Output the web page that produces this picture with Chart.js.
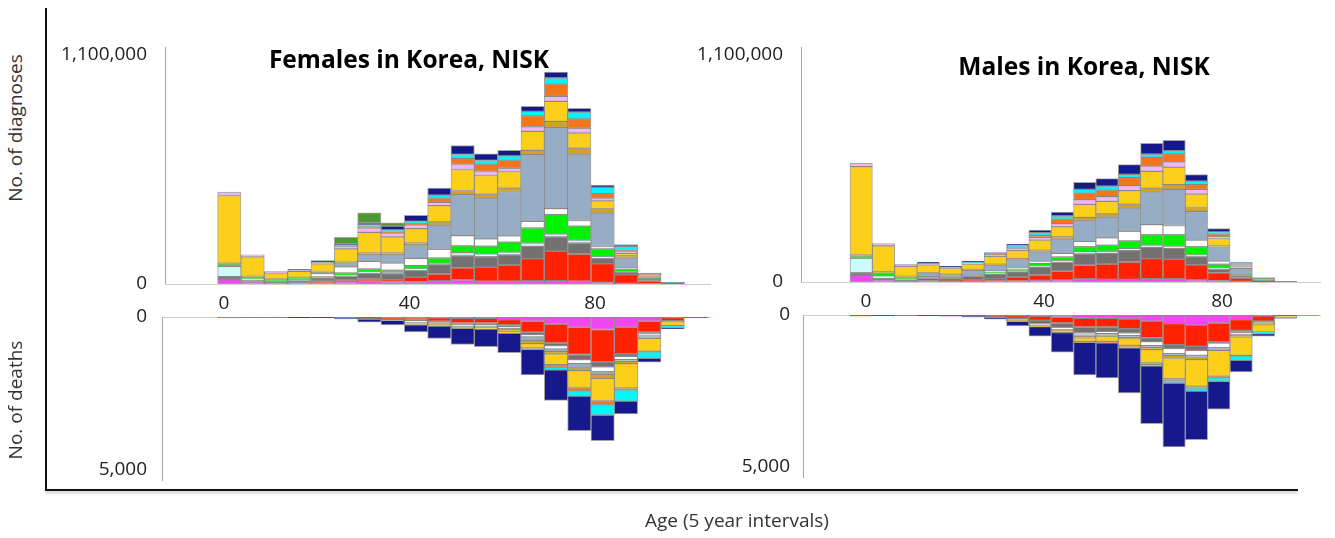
<!DOCTYPE html>
<html>
<head>
<meta charset="utf-8">
<script src="https://cdn.jsdelivr.net/npm/chart.js@4.4.1/dist/chart.umd.min.js"></script>
<style>
  body { margin: 0; width: 1335px; height: 538px; position: relative; overflow: hidden; background: #fff; font-family: 'Open Sans', sans-serif; }
  canvas { position: absolute; }
  .txt { position: absolute; white-space: nowrap; color: #333; }
  .title { font-weight: bold; font-size: 24.5px; color: #000; transform: translate(-50%, -50%); }
  .axt { font-size: 19px; transform: translate(-50%, -50%) rotate(-90deg); }
  .line { position: absolute; background: #111; }
</style>
</head>
<body>
<div class="line" style="left:45px; top:8px; width:2px; height:483px;"></div>
<div class="line" style="left:45px; top:489px; width:1253px; height:2px; box-shadow:0 2px 3px rgba(0,0,0,0.25);"></div>

<canvas id="fDiag" width="680" height="297" style="left:40px; top:17px;"></canvas>
<canvas id="fDeath" width="683" height="223" style="left:37px; top:287px;"></canvas>
<canvas id="mDiag" width="654" height="295" style="left:676px; top:17px;"></canvas>
<canvas id="mDeath" width="652" height="222" style="left:678px; top:285px;"></canvas>

<div class="txt title" style="left:409px; top:58px;">Females in Korea, NISK</div>
<div class="txt title" style="left:1084px; top:65px;">Males in Korea, NISK</div>
<div class="txt axt" style="left:15px; top:128px;">No. of diagnoses</div>
<div class="txt axt" style="left:15px; top:400px;">No. of deaths</div>
<div class="txt" style="left:737px; top:520px; font-size:19px; transform:translate(-50%,-50%);">Age (5 year intervals)</div>

<script>
// age groups, one bar each
const ages = [0, 5, 10, 15, 20, 25, 30, 35, 40, 45, 50, 55, 60, 65, 70, 75, 80, 85, 90, 95, 100];
const ageTicks = [0, 40, 80];
const diagTicks = [0, 1100000];
const deathTicks = [0, 5000];

// females, diagnoses
const fDiagMagenta = [22500, 8000, 5000, 5000, 5000, 10000, 13000, 11000, 11000, 16000, 19000, 14000, 14000, 16000, 16000, 13000, 8000, 3000, 1000, 0, 0];
const fDiagRed = [0, 0, 0, 0, 8000, 8000, 11000, 10000, 21000, 32000, 59000, 66000, 77000, 106000, 141000, 131000, 90000, 42000, 13000, 4000, 0];
const fDiagGrey = [13000, 8000, 6000, 11000, 13000, 19000, 29000, 29000, 34000, 45000, 59000, 51000, 49000, 59000, 69000, 53000, 27000, 11000, 8000, 2000, 0];
const fDiagLightCyan = [49500, 8000, 0, 5000, 0, 4000, 6000, 6000, 6000, 6000, 14000, 14000, 13000, 16000, 14000, 14000, 6000, 3000, 0, 0, 0];
const fDiagGreen = [11000, 8000, 9000, 8000, 8000, 12000, 13000, 10000, 16000, 26000, 32000, 37000, 48000, 72000, 93000, 67000, 38000, 14000, 4000, 0, 0];
const fDiagWhite = [0, 0, 0, 0, 16000, 30000, 37000, 35000, 35000, 42000, 49000, 35000, 30000, 32000, 29000, 27000, 11000, 5000, 0, 0, 0];
const fDiagSteel = [0, 0, 0, 0, 6000, 19000, 32000, 40000, 66000, 115000, 198000, 195000, 213000, 320000, 390000, 318000, 160000, 46000, 10000, 2000, 0];
const fDiagGold = [4000, 5000, 4000, 3000, 4000, 6000, 8000, 8000, 8000, 16000, 19000, 19000, 16000, 21000, 29000, 29000, 21000, 11000, 3000, 0, 0];
const fDiagYellow = [325000, 93000, 29000, 29000, 37000, 61000, 99000, 77000, 69000, 78000, 101000, 90000, 80000, 91000, 96000, 73000, 38000, 11000, 4000, 0, 0];
const fDiagPink = [16000, 10000, 4000, 5000, 7000, 13000, 21000, 19000, 18000, 16000, 24000, 19000, 16000, 22000, 24000, 23000, 13000, 8000, 2000, 0, 0];
const fDiagOrange = [0, 0, 0, 0, 0, 0, 5000, 4000, 5000, 21000, 29000, 35000, 38000, 53000, 59000, 45000, 22000, 8000, 2000, 0, 0];
const fDiagCyan = [0, 0, 0, 0, 3000, 5000, 10000, 11000, 11000, 13000, 19000, 18000, 21000, 21000, 29000, 32000, 30000, 19000, 4000, 1000, 0];
const fDiagNavy = [0, 0, 2000, 4000, 3000, 5000, 10000, 18000, 30000, 35000, 43000, 32000, 27000, 24000, 29000, 19000, 11000, 8000, 1000, 0, 0];
const fDiagDarkGreen = [0, 0, 0, 0, 3000, 32000, 48000, 16000, 0, 0, 0, 0, 0, 0, 0, 0, 0, 0, 0, 0, 0];

// males, diagnoses
const mDiagMagenta = [32000, 10000, 4000, 5000, 4000, 3000, 5000, 5000, 8000, 10000, 16000, 13000, 13000, 16000, 16000, 10000, 6000, 3000, 0, 0, 0];
const mDiagRed = [0, 0, 0, 0, 3000, 6000, 11000, 19000, 26000, 42000, 65000, 74000, 84000, 97000, 94000, 73000, 39000, 16000, 3000, 0, 0];
const mDiagGrey = [13000, 6000, 8000, 13000, 11000, 19000, 23000, 26000, 37000, 45000, 55000, 52000, 55000, 55000, 53000, 40000, 16000, 8000, 6000, 3000, 0];
const mDiagLightCyan = [70000, 14000, 3000, 0, 0, 0, 3000, 5000, 6000, 6000, 11000, 10000, 10000, 11000, 11000, 8000, 6000, 0, 0, 0, 0];
const mDiagGreen = [11000, 13000, 8000, 8000, 6000, 5000, 6000, 8000, 13000, 18000, 24000, 29000, 37000, 50000, 55000, 40000, 19000, 10000, 0, 0, 0];
const mDiagWhite = [0, 0, 0, 0, 0, 0, 6000, 5000, 11000, 18000, 26000, 36000, 47000, 49000, 45000, 32000, 16000, 3000, 0, 0, 0];
const mDiagSteel = [0, 0, 0, 13000, 11000, 23000, 27000, 40000, 45000, 69000, 100000, 100000, 112000, 158000, 175000, 139000, 65000, 19000, 3000, 0, 0];
const mDiagGold = [5000, 6000, 5000, 5000, 3000, 5000, 6000, 5000, 8000, 11000, 16000, 16000, 19000, 19000, 23000, 19000, 10000, 6000, 0, 0, 0];
const mDiagYellow = [428000, 126000, 48000, 39000, 29000, 26000, 37000, 40000, 49000, 49000, 63000, 61000, 66000, 81000, 84000, 65000, 34000, 10000, 0, 0, 0];
const mDiagPink = [16000, 11000, 5000, 6000, 3000, 6000, 6000, 11000, 13000, 15000, 23000, 23000, 24000, 26000, 26000, 23000, 8000, 5000, 0, 0, 0];
const mDiagOrange = [0, 0, 0, 0, 0, 0, 4000, 6000, 10000, 21000, 31000, 32000, 39000, 42000, 39000, 24000, 13000, 5000, 0, 0, 0];
const mDiagCyan = [0, 0, 0, 3000, 3000, 3000, 4000, 8000, 13000, 16000, 19000, 19000, 16000, 15000, 16000, 16000, 11000, 6000, 0, 0, 0];
const mDiagNavy = [0, 0, 3000, 4000, 3000, 5000, 4000, 6000, 13000, 19000, 34000, 36000, 47000, 53000, 50000, 32000, 16000, 3000, 0, 0, 0];
const mDiagDarkGreen = [0, 0, 0, 0, 0, 0, 0, 0, 0, 0, 0, 0, 0, 0, 0, 0, 0, 0, 9000, 0, 0];

// females, deaths
const fDeathMagenta = [0, 0, 0, 0, 0, 0, 0, 15, 30, 30, 45, 45, 85, 140, 230, 335, 410, 335, 140, 20, 0];
const fDeathRed = [15, 0, 0, 0, 5, 15, 40, 60, 65, 110, 150, 150, 175, 360, 620, 890, 1060, 865, 360, 100, 20];
const fDeathGrey = [0, 0, 0, 0, 0, 0, 15, 25, 33, 40, 65, 55, 55, 75, 85, 170, 160, 85, 55, 0, 0];
const fDeathWhite = [0, 0, 0, 0, 0, 0, 0, 10, 33, 35, 35, 40, 55, 75, 110, 130, 160, 110, 55, 0, 0];
const fDeathSteel = [0, 0, 0, 0, 0, 0, 0, 0, 33, 20, 20, 30, 45, 120, 85, 140, 85, 55, 45, 0, 0];
const fDeathGold = [15, 0, 0, 0, 0, 0, 15, 0, 0, 30, 30, 30, 45, 100, 75, 90, 130, 75, 45, 30, 0];
const fDeathYellow = [0, 0, 0, 0, 0, 0, 0, 0, 65, 35, 25, 45, 75, 140, 350, 550, 725, 790, 420, 130, 0];
const fDeathOrange = [0, 0, 0, 0, 0, 0, 0, 0, 0, 0, 0, 0, 0, 20, 85, 110, 140, 65, 20, 0, 0];
const fDeathCyan = [0, 0, 0, 0, 0, 0, 0, 0, 0, 0, 0, 0, 0, 25, 85, 170, 335, 370, 215, 75, 0];
const fDeathNavy = [0, 10, 10, 25, 15, 50, 100, 150, 230, 400, 530, 575, 630, 835, 1000, 1130, 835, 420, 120, 30, 0];

// males, deaths
const mDeathMagenta = [0, 0, 0, 0, 0, 0, 10, 20, 35, 65, 110, 110, 130, 200, 285, 340, 265, 155, 30, 0, 0];
const mDeathRed = [20, 10, 0, 15, 20, 30, 45, 90, 145, 200, 285, 285, 320, 550, 695, 695, 615, 350, 170, 30, 10];
const mDeathGrey = [0, 0, 0, 0, 0, 0, 15, 35, 110, 155, 200, 155, 140, 130, 120, 130, 45, 65, 45, 0, 0];
const mDeathWhite = [0, 0, 0, 0, 0, 0, 0, 10, 25, 45, 65, 65, 90, 130, 175, 165, 155, 65, 20, 0, 0];
const mDeathSteel = [0, 0, 0, 0, 0, 0, 0, 0, 20, 25, 45, 45, 65, 65, 55, 55, 45, 45, 30, 0, 0];
const mDeathGold = [15, 0, 0, 0, 0, 0, 10, 30, 35, 35, 45, 35, 35, 65, 90, 90, 45, 45, 30, 0, 0];
const mDeathYellow = [0, 0, 0, 0, 0, 0, 0, 20, 15, 55, 120, 175, 220, 440, 685, 870, 850, 605, 230, 60, 0];
const mDeathOrange = [0, 0, 0, 0, 0, 0, 0, 0, 0, 0, 30, 45, 55, 55, 65, 65, 45, 20, 0, 0, 0];
const mDeathCyan = [0, 0, 0, 0, 0, 0, 0, 0, 0, 0, 0, 0, 30, 45, 75, 100, 120, 145, 55, 0, 0];
const mDeathNavy = [0, 10, 10, 10, 20, 40, 60, 155, 310, 650, 1080, 1165, 1485, 1905, 2110, 1605, 925, 385, 90, 20, 0];

const colours = {
    magenta: '#f346f3', red: '#ff2100', grey: '#757171', lightCyan: '#cdfbfb',
    green: '#00f200', white: '#ffffff', steel: '#97adc6', gold: '#d3a21e',
    yellow: '#fcd01a', pink: '#f6b3f5', orange: '#f4761c', cyan: '#00f7f7',
    navy: '#15198b', darkGreen: '#4c9a2f'
};

function stackSets(list) {
    return list.map(([name, values]) => ({
        label: name,
        data: values.map((v, i) => ({ x: ages[i], y: v })),
        backgroundColor: colours[name],
        borderColor: 'rgba(55,55,55,0.45)',
        borderWidth: 1,
        borderSkipped: false,
        barPercentage: 1,
        categoryPercentage: 1
    }));
}

function drawPanel(id, sets, p) {
    const tickFont = { family: 'Open Sans', size: 19 };
    const scales = {
        x: {
            type: 'linear', min: p.xMin, max: p.xMax, offset: false, stacked: true,
            position: p.deaths ? 'top' : 'bottom', display: p.deaths,
            grid: { display: false, drawTicks: false, offset: false },
            ticks: { display: false },
            border: { color: '#cfcfcf' },
            afterFit: s => { s.height = 0; }
        },
        y: {
            min: 0, max: p.yMax, reverse: p.deaths, stacked: true,
            grid: { display: false, drawTicks: false },
            border: { color: '#a8a8a8' },
            ticks: { font: tickFont, color: '#222', padding: p.pad, callback: v => v.toLocaleString('en-US') },
            afterBuildTicks: s => { s.ticks = p.yTicks.map(v => ({ value: v })); },
            afterFit: s => { s.width = p.yWidth; }
        }
    };
    if (!p.deaths) {
        // age labels sit on their own axis under the bars
        scales.xl = {
            type: 'linear', position: 'bottom', min: p.lMin, max: p.lMax, offset: false,
            grid: { display: false, drawTicks: false },
            border: { color: '#cfcfcf' },
            ticks: { font: tickFont, color: '#222', padding: 8, callback: v => String(v) },
            afterBuildTicks: s => { s.ticks = ageTicks.map(v => ({ value: v })); },
            afterFit: s => { s.height = 30; }
        };
    }
    new Chart(document.getElementById(id), {
        type: 'bar',
        data: { datasets: sets },
        options: {
            responsive: false,
            animation: false,
            devicePixelRatio: 1,
            layout: { padding: { top: 30, right: 10, bottom: p.deaths ? 30 : 0, left: 0 } },
            plugins: { legend: { display: false }, tooltip: { enabled: false } },
            scales: scales
        }
    });
}

drawPanel('fDiag', stackSets([
    ['magenta', fDiagMagenta], ['red', fDiagRed], ['grey', fDiagGrey], ['lightCyan', fDiagLightCyan],
    ['green', fDiagGreen], ['white', fDiagWhite], ['steel', fDiagSteel], ['gold', fDiagGold],
    ['yellow', fDiagYellow], ['pink', fDiagPink], ['orange', fDiagOrange], ['cyan', fDiagCyan],
    ['navy', fDiagNavy], ['darkGreen', fDiagDarkGreen]
]), { deaths: false, xMin: -13.78, xMax: 103, lMin: -12.72, lMax: 104.8, yMax: 1138000, yTicks: diagTicks, yWidth: 125, pad: 18 });

drawPanel('mDiag', stackSets([
    ['magenta', mDiagMagenta], ['red', mDiagRed], ['grey', mDiagGrey], ['lightCyan', mDiagLightCyan],
    ['green', mDiagGreen], ['white', mDiagWhite], ['steel', mDiagSteel], ['gold', mDiagGold],
    ['yellow', mDiagYellow], ['pink', mDiagPink], ['orange', mDiagOrange], ['cyan', mDiagCyan],
    ['navy', mDiagNavy], ['darkGreen', mDiagDarkGreen]
]), { deaths: false, xMin: -13.47, xMax: 102.64, lMin: -14.61, lMax: 102, yMax: 1139000, yTicks: diagTicks, yWidth: 125, pad: 18 });

drawPanel('fDeath', stackSets([
    ['magenta', fDeathMagenta], ['red', fDeathRed], ['grey', fDeathGrey], ['white', fDeathWhite],
    ['steel', fDeathSteel], ['gold', fDeathGold], ['yellow', fDeathYellow], ['orange', fDeathOrange],
    ['cyan', fDeathCyan], ['navy', fDeathNavy]
]), { deaths: true, xMin: -14.42, xMax: 103, yMax: 5330, yTicks: deathTicks, yWidth: 125, pad: 15 });

drawPanel('mDeath', stackSets([
    ['magenta', mDeathMagenta], ['red', mDeathRed], ['grey', mDeathGrey], ['white', mDeathWhite],
    ['steel', mDeathSteel], ['gold', mDeathGold], ['yellow', mDeathYellow], ['orange', mDeathOrange],
    ['cyan', mDeathCyan], ['navy', mDeathNavy]
]), { deaths: true, xMin: -13.02, xMax: 102.64, yMax: 5346, yTicks: deathTicks, yWidth: 125, pad: 13 });
</script>
</body>
</html>
